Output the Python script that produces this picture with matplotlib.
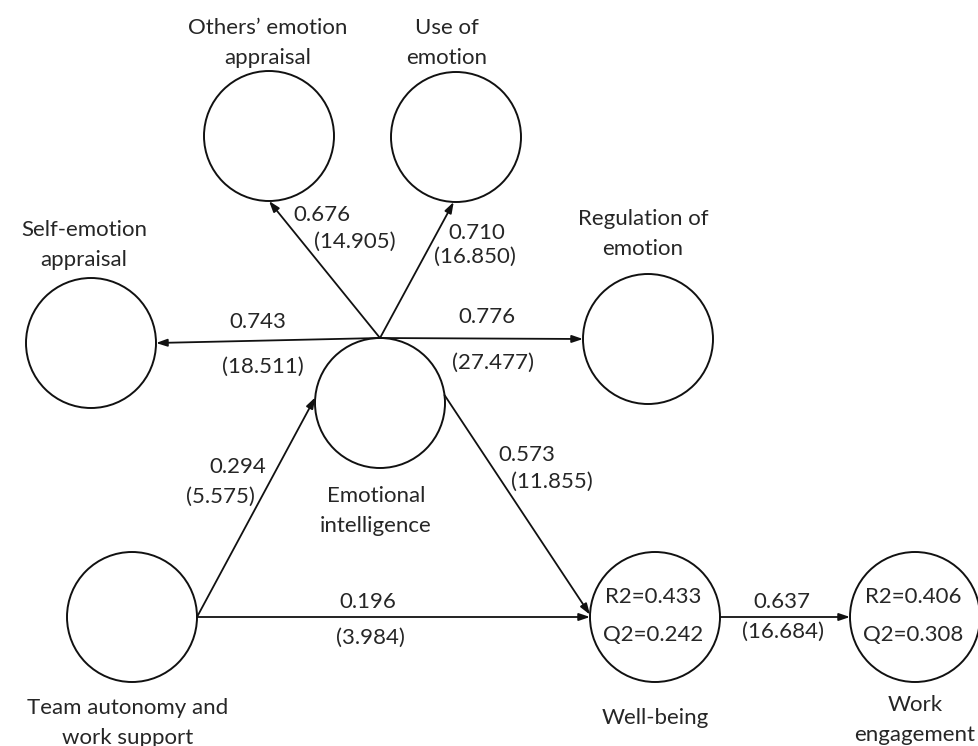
import matplotlib
matplotlib.use("Agg")
import matplotlib.pyplot as plt
from matplotlib.patches import Circle
import numpy as np

# ---- data ----
node_labels = {
    "SEA": "Self-emotion\nappraisal",
    "OEA": "Others\u2019 emotion\nappraisal",
    "UOE": "Use of\nemotion",
    "ROE": "Regulation of\nemotion",
    "EI": "Emotional\nintelligence",
    "TA": "Team autonomy and\nwork support",
    "WB": "Well-being",
    "WE": "Work\nengagement",
}
path_from = ["EI", "EI", "EI", "EI", "TA", "TA", "EI", "WB"]
path_to = ["SEA", "OEA", "UOE", "ROE", "EI", "WB", "WB", "WE"]
path_coef = ["0.743", "0.676", "0.710", "0.776", "0.294", "0.196", "0.573", "0.637"]
path_t = ["(18.511)", "(14.905)", "(16.850)", "(27.477)", "(5.575)", "(3.984)", "(11.855)", "(16.684)"]
r2_nodes = ["WB", "WE"]
r2_values = ["0.433", "0.406"]
q2_values = ["0.242", "0.308"]

# ---- layout (pixel space) ----
W, H = 979, 746
R = 65
centers = {
    "SEA": (91, 343), "OEA": (269, 136), "UOE": (456, 137), "ROE": (648, 339),
    "EI": (380, 403), "TA": (132, 617), "WB": (655, 617), "WE": (915, 617),
}
label_pos = {
    "SEA": (84, 245), "OEA": (268, 43), "UOE": (447, 43), "ROE": (643, 234),
    "EI": (376, 511), "TA": (128, 723), "WB": (655, 718), "WE": (915, 720),
}
# attachment angles (degrees, screen coords: 0=right, 90=down, 270=up)
src_ang = [270, 270, 270, 270, 0, 0, 353, 0]
dst_ang = [0, 90, 92, 180, 185, 180, 182, 180]
coef_pos = [(258, 322), (322, 215), (477, 233), (487, 317), (238, 467), (368, 602), (527, 455), (782, 602)]
t_pos = [(263, 367), (355, 242), (475, 257), (493, 363), (220, 497), (370, 638), (552, 482), (783, 632)]

TXT = "#262626"
FONT = "Lato"
FS = 16

fig = plt.figure(figsize=(W / 100, H / 100), dpi=100)
ax = fig.add_axes([0, 0, 1, 1])
ax.set_xlim(0, W)
ax.set_ylim(H, 0)
ax.set_aspect("equal")
ax.axis("off")

for k, (cx, cy) in centers.items():
    ax.add_patch(Circle((cx, cy), R, fill=False, edgecolor="#111111", lw=1.4))
    lx, ly = label_pos[k]
    ax.text(lx, ly, node_labels[k], ha="center", va="center", fontsize=FS,
            family=FONT, color=TXT, linespacing=1.6)


def pt(node, ang):
    cx, cy = centers[node]
    a = np.deg2rad(ang)
    return (cx + R * np.cos(a), cy + R * np.sin(a))


for f, t, sa, da in zip(path_from, path_to, src_ang, dst_ang):
    p0 = pt(f, sa)
    p1 = pt(t, da)
    ax.annotate("", xy=p1, xytext=p0,
                arrowprops=dict(arrowstyle="-|>,head_length=0.65,head_width=0.22",
                                color="#111111", lw=1.3, shrinkA=0, shrinkB=0))

for c, tv, cp, tp in zip(path_coef, path_t, coef_pos, t_pos):
    ax.text(cp[0], cp[1], c, ha="center", va="center", fontsize=FS, family=FONT, color=TXT)
    ax.text(tp[0], tp[1], tv, ha="center", va="center", fontsize=FS, family=FONT, color=TXT)

for n, r2, q2 in zip(r2_nodes, r2_values, q2_values):
    cx, cy = centers[n]
    ax.text(cx - 2, cy - 20, "R2=" + r2, ha="center", va="center", fontsize=FS, family=FONT, color=TXT)
    ax.text(cx - 2, cy + 18, "Q2=" + q2, ha="center", va="center", fontsize=FS, family=FONT, color=TXT)

fig.savefig("out.png", dpi=100, facecolor="white")
